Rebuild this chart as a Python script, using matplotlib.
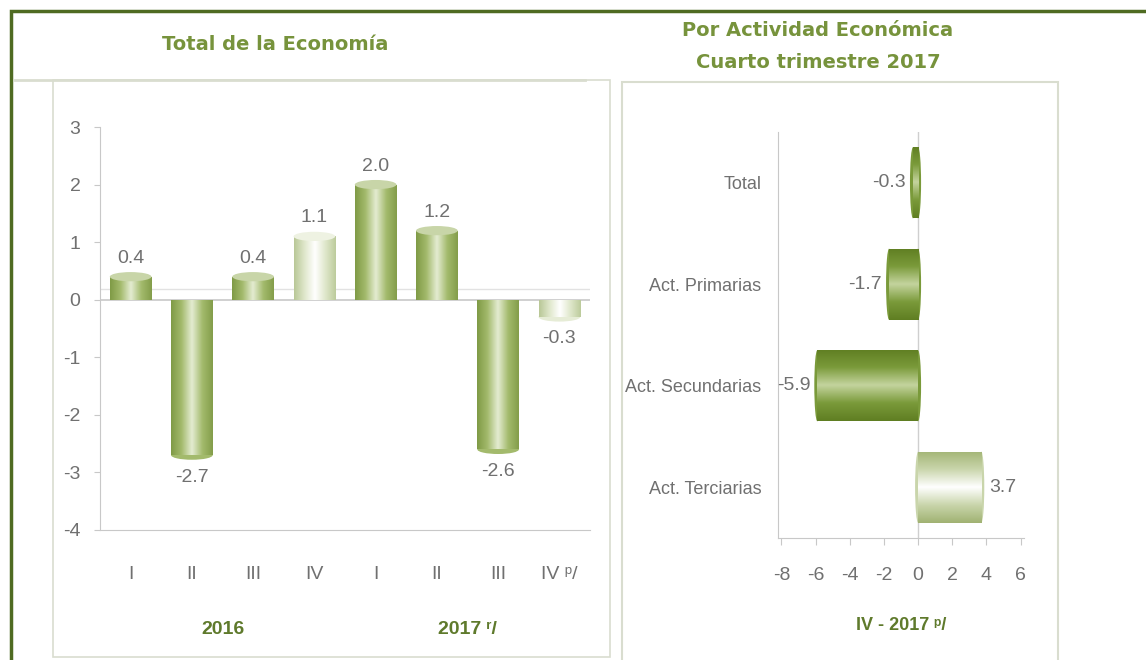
import numpy as np
import matplotlib
matplotlib.use("Agg")
import matplotlib.pyplot as plt
from matplotlib.colors import LinearSegmentedColormap
from matplotlib.patches import Rectangle, Ellipse

# Data
quarters = ['I', 'II', 'III', 'IV', 'I', 'II', 'III', 'IV ᵖ/']
total_vals = [0.4, -2.7, 0.4, 1.1, 2.0, 1.2, -2.6, -0.3]
total_light = [False, False, False, True, False, False, False, True]
years = ['2016', '2017 ʳ/']
year_pos = [1.5, 5.5]

sectors = ['Total', 'Act. Primarias', 'Act. Secundarias', 'Act. Terciarias']
sector_vals = [-0.3, -1.7, -5.9, 3.7]
sector_light = [False, False, False, True]

plt.rcParams['font.family'] = ['Liberation Sans', 'DejaVu Sans']
plt.rcParams['axes.unicode_minus'] = False
TICK = '#707070'
TITLE = '#77933c'
DARKLAB = '#5f7a2c'

# cylinder shading: edge -> highlight -> edge
mid_cmap = LinearSegmentedColormap.from_list('mid', ['#7f9a45', '#a3ba6c', '#e4ecd2', '#a3ba6c', '#839d4a'])
light_cmap = LinearSegmentedColormap.from_list('light', ['#b8c796', '#dfe7cb', '#ffffff', '#dfe7cb', '#bccb9b'])
dark_cmap = LinearSegmentedColormap.from_list('dark', ['#5f7e22', '#7a9a3a', '#c4d49e', '#7a9a3a', '#5f7e22'])
terc_cmap = LinearSegmentedColormap.from_list('terc', ['#a3b576', '#c9d5ab', '#ffffff', '#c9d5ab', '#a0b272'])


def shade_bars(ax, bars, cmaps, horizontal=False):
    grad = np.linspace(0, 1, 256)
    for bar, cm in zip(bars, cmaps):
        x0, y0 = bar.get_x(), bar.get_y()
        w, h = bar.get_width(), bar.get_height()
        img = grad.reshape(-1, 1) if horizontal else grad.reshape(1, -1)
        im = ax.imshow(img, cmap=cm, aspect='auto', zorder=3,
                       extent=[x0, x0 + w, y0, y0 + h] if not horizontal else
                       [x0, x0 + w, y0 + h, y0], interpolation='bicubic')
        im.set_clip_path(bar)
        bar.set_facecolor('none')


fig = plt.figure(figsize=(11.46, 6.6), dpi=100)
W, H = 1146, 660


def fx(px):
    return px / W


def fy(py):
    return 1 - py / H


# outer frame and panel boxes
fig.patches.append(Rectangle((fx(11), fy(700)), fx(1200), fy(11) - fy(700), transform=fig.transFigure,
                             fill=False, edgecolor='#4f6b22', linewidth=2.5, zorder=0))
fig.patches.append(Rectangle((fx(53), fy(657)), fx(610 - 53), fy(80) - fy(657), transform=fig.transFigure,
                             fill=False, edgecolor='#d9ddcf', linewidth=1.2, zorder=0))
fig.lines.append(plt.Line2D([fx(15), fx(585)], [fy(80), fy(80)], transform=fig.transFigure,
                            color='#d9ddcf', linewidth=2))
fig.patches.append(Rectangle((fx(622), fy(700)), fx(1058 - 622), fy(82) - fy(700), transform=fig.transFigure,
                             fill=False, edgecolor='#d9ddcf', linewidth=1.5, zorder=0))

# ---- left: Total de la Economia
ax1 = fig.add_axes([fx(100), fy(530), fx(590 - 100), fy(127) - fy(530)])
x = np.arange(len(total_vals))
bw = 0.68
bars = ax1.bar(x, total_vals, width=bw, zorder=3)
shade_bars(ax1, bars, [light_cmap if l else mid_cmap for l in total_light])
for xi, v, l in zip(x, total_vals, total_light):
    cap = '#c8d5a8' if not l else '#eef2e2'
    body = '#a3ba6c' if not l else '#e6ecd6'
    if v > 0:
        ax1.add_patch(Ellipse((xi, v), bw, 0.16, facecolor=cap, edgecolor='none', zorder=4))
    else:
        ax1.add_patch(Ellipse((xi, v), bw, 0.16, facecolor=body, edgecolor='none', zorder=2.9))
    ax1.text(xi, v + (0.32 if v > 0 else -0.38), f'{v:.1f}', ha='center', va='center',
             fontsize=14, color=TICK)

ax1.axhline(0, color='#c8c8c8', linewidth=1.2, zorder=2)
ax1.axhline(0.18, color='#e2e2e2', linewidth=1, zorder=1)
ax1.set_ylim(-4, 3)
ax1.set_xlim(-0.5, len(total_vals) - 0.5)
ax1.set_yticks(range(-4, 4))
ax1.set_yticklabels([str(t) for t in range(-4, 4)])
ax1.set_xticks(x)
ax1.set_xticklabels(quarters)
ax1.tick_params(axis='x', length=0, pad=26, labelsize=14, labelcolor=TICK)
ax1.tick_params(axis='y', length=4, color='#c8c8c8', pad=10, labelsize=14, labelcolor=TICK)
for s in ['top', 'right']:
    ax1.spines[s].set_visible(False)
for s in ['left', 'bottom']:
    ax1.spines[s].set_color('#c8c8c8')
for yl, yp in zip(years, year_pos):
    ax1.text(yp, -5.72, yl, ha='center', va='center', fontsize=14, fontweight='bold', color=DARKLAB)
fig.text(fx(275), fy(45), 'Total de la Economía', ha='center', va='center',
         fontsize=14, fontweight='bold', color=TITLE, family='DejaVu Sans')

# ---- right: Por Actividad Economica
ax2 = fig.add_axes([fx(778), fy(538), fx(1024 - 778), fy(132) - fy(538)])
y = np.arange(len(sector_vals))
bh = 0.7
hb = ax2.barh(y, sector_vals, height=bh, zorder=3)
cm2 = [terc_cmap if l else dark_cmap for l in sector_light]
shade_bars(ax2, hb, cm2, horizontal=True)
for yi, v, l in zip(y, sector_vals, sector_light):
    body = '#7a9a3a' if not l else '#c9d5ab'
    ax2.add_patch(Ellipse((min(v, 0), yi), 0.35, bh, facecolor=body, edgecolor='none', zorder=2.9))
    ax2.add_patch(Ellipse((max(v, 0), yi), 0.35, bh, facecolor=body, edgecolor='none', zorder=2.9))
    ax2.text(v + (0.45 if v > 0 else -0.4), yi, f'{v:.1f}', ha='left' if v > 0 else 'right',
             va='center', fontsize=14, color=TICK)
ax2.axvline(0, color='#cfcfcf', linewidth=1, zorder=2)
ax2.set_xlim(-8.2, 6.2)
ax2.set_ylim(len(sector_vals) - 0.5, -0.5)
ax2.set_xticks(range(-8, 7, 2))
ax2.set_yticks(y)
ax2.set_yticklabels(sectors)
ax2.tick_params(axis='x', length=5, color='#c8c8c8', pad=16, labelsize=14, labelcolor=TICK)
ax2.tick_params(axis='y', length=0, pad=12, labelsize=13, labelcolor=TICK)
for s in ['top', 'right']:
    ax2.spines[s].set_visible(False)
for s in ['left', 'bottom']:
    ax2.spines[s].set_color('#c8c8c8')
ax2.set_xlabel('IV - 2017 ᵖ/', fontsize=13, fontweight='bold', color=DARKLAB, labelpad=24)
fig.text(fx(818), fy(30), 'Por Actividad Económica', ha='center', va='center',
         fontsize=14, fontweight='bold', color=TITLE, family='DejaVu Sans')
fig.text(fx(818), fy(62), 'Cuarto trimestre 2017', ha='center', va='center',
         fontsize=14, fontweight='bold', color=TITLE, family='DejaVu Sans')

fig.savefig('out.png', dpi=100, facecolor='white')
